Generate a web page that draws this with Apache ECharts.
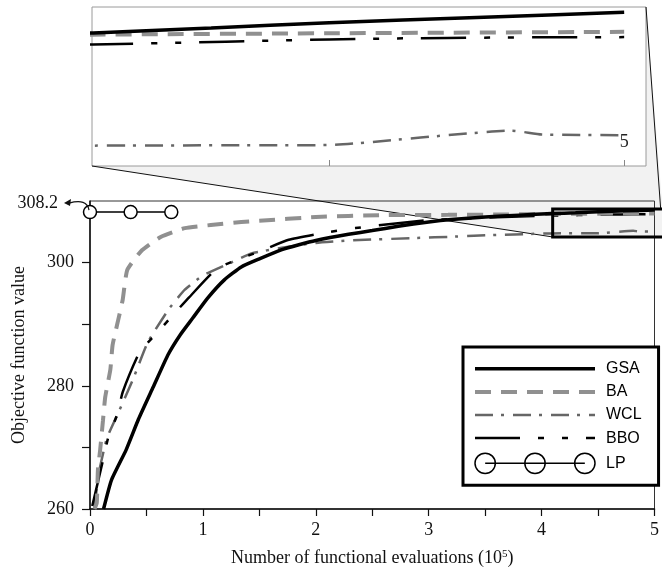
<!DOCTYPE html>
<html><head><meta charset="utf-8">
<script src="https://cdn.jsdelivr.net/npm/echarts@6/dist/echarts.min.js"></script>
<style>html,body{margin:0;padding:0;background:#fff}#c{width:662px;height:578px}</style>
</head><body><div id="c"></div>
<script>
// x in units of 10^5 evaluations, y = objective function value
const GSA = [[0.12,260],[0.19,264.7],[0.32,269.6],[0.43,274.6],[0.56,279.8],[0.69,285],[0.8,288.3],[0.91,291],[1.04,294.2],[1.19,297.2],[1.34,299.3],[1.5,300.6],[1.7,302.1],[1.85,302.9],[2.0,303.6],[2.29,304.6],[2.5,305.2],[2.73,305.9],[3.0,306.6],[3.2,307.0],[3.5,307.4],[3.8,307.7],[4.1,307.96],[4.3,308.1],[4.5,308.25],[4.75,308.4],[5.0,308.55]];
const BA = [[0.04,260],[0.06,261],[0.07,266.3],[0.09,269.6],[0.115,274.4],[0.135,278.2],[0.18,282.6],[0.2,286.6],[0.24,289.9],[0.26,291.5],[0.29,294],[0.33,298.8],[0.46,302],[0.63,304.2],[0.84,305.6],[1.07,306.1],[1.34,306.6],[1.5,306.8],[2.0,307.4],[2.58,307.7],[3.17,307.75],[3.6,307.8],[4.1,307.91],[4.5,307.95],[5.0,307.99]];
const WCL = [[0.04,260.3],[0.08,266],[0.15,271.5],[0.26,276],[0.38,281],[0.51,287],[0.7,292.5],[0.84,295.6],[1.0,297.9],[1.25,300],[1.43,301.5],[1.7,302.4],[2.0,303.2],[2.3,303.6],[2.9,304],[3.2,304.2],[3.6,304.5],[4.1,304.74],[4.5,304.76],[4.81,305.17],[4.86,305.06],[5.0,305.04]];
const BBO = [[0.02,260.5],[0.11,267.5],[0.16,271.5],[0.24,275.3],[0.29,279],[0.44,285.5],[0.6,288.7],[0.75,291.8],[0.88,294.4],[1.13,299.1],[1.5,301.8],[1.76,303.7],[2.13,305],[2.35,305.6],[2.58,306.1],[3.0,306.9],[3.5,307.3],[4.1,307.63],[4.25,307.68],[4.4,307.74],[4.6,307.8],[4.8,307.83],[5.0,307.84]];
const LP = [[0,308.2],[0.36,308.2],[0.72,308.2]];
const LP_VALUE = 308.2;
const Y_LABELS = [260,280,300];
const Y_TICKS = [260,270,280,290,300];
const INSET_TICKS = [4.5,5];
const INSET_LABELS = [5];
const ZOOM_X = [4.098, 5.037];
const ZOOM_Y = [304.16, 308.7];

const serif = 'Liberation Serif, Times New Roman, serif';
const sans = 'Liberation Sans, Arial, sans-serif';
const styles = {
  GSA: {color:'#000', width:3.5, type:'solid'},
  BA:  {color:'#909090', width:4, type:[16,10]},
  WCL: {color:'#666', width:2.5, type:[18,8,3,9]},
  BBO: {color:'#000', width:2.5, type:[45,18,6,18,6,18]}
};
const dataMap = {GSA, BA, WCL, BBO};
const series = [];
[0,1].forEach(g => {
  ['WCL','BBO','BA','GSA'].forEach(n => {
    series.push({
      name:n, type:'line', xAxisIndex:g, yAxisIndex:g, data:dataMap[n],
      symbol:'none', smooth:0.15, clip:true,
      lineStyle:{color:styles[n].color, width:styles[n].width, type:styles[n].type},
      itemStyle:{color:styles[n].color}, z: 3
    });
  });
});
series.push({
  name:'LP', type:'line', xAxisIndex:0, yAxisIndex:0, data:LP,
  symbol:'circle', symbolSize:13, showSymbol:true,
  lineStyle:{color:'#000', width:1.5},
  itemStyle:{color:'#fff', borderColor:'#000', borderWidth:1.5}, z:4
});

const inset = {left:92, top:7, width:554, height:159};
const lpIcon = 'path://M1,11A10,10 0 1,0 21,11A10,10 0 1,0 1,11ZM50,11A10,10 0 1,0 70,11A10,10 0 1,0 50,11ZM99,11A10,10 0 1,0 119,11A10,10 0 1,0 99,11ZM11,11L109,11';
const hiddenSym = {opacity:0};

const chart = echarts.init(document.getElementById('c'));
chart.setOption({
  animation:false,
  backgroundColor:'#fff',
  grid:[
    {left:90, top:201, width:568, height:308, show:true, borderColor:'#333', borderWidth:1, backgroundColor:'transparent'},
    {left:inset.left, top:inset.top, width:inset.width, height:inset.height, show:true, borderColor:'#9a9a9a', borderWidth:1, backgroundColor:'#fff', z:1}
  ],
  xAxis:[
    {type:'value', gridIndex:0, min:0, max:5, interval:1,
     name:'Number of functional evaluations (10{sup|5})', nameLocation:'middle', nameGap:40,
     nameTextStyle:{fontFamily:serif, fontSize:18, color:'#111', rich:{sup:{fontFamily:serif, fontSize:11, verticalAlign:'top', padding:[0,0,8,0], color:'#111'}}},
     axisLine:{lineStyle:{color:'#111', width:1.5}},
     axisTick:{show:true, length:7, lineStyle:{color:'#111', width:1.2}},
     minorTick:{show:true, splitNumber:2, length:7, lineStyle:{color:'#111', width:1.2}},
     axisLabel:{fontFamily:serif, fontSize:18, color:'#111', margin:12},
     splitLine:{show:false}},
    {type:'value', gridIndex:1, min:ZOOM_X[0], max:ZOOM_X[1], z:5,
     axisLine:{show:false},
     axisTick:{show:true, inside:true, length:6, customValues:INSET_TICKS, lineStyle:{color:'#888'}},
     axisLabel:{inside:true, customValues:INSET_LABELS, fontFamily:serif, fontSize:18, color:'#222', margin:15, formatter:v=>String(Math.round(v))},
     splitLine:{show:false}}
  ],
  yAxis:[
    {type:'value', gridIndex:0, min:260, max:310,
     name:'Objective function value', nameLocation:'middle', nameGap:62, nameRotate:90,
     nameTextStyle:{fontFamily:serif, fontSize:18, color:'#111'},
     axisLine:{lineStyle:{color:'#111', width:1.5}},
     axisTick:{show:true, length:8, customValues:Y_TICKS, lineStyle:{color:'#111', width:1.2}},
     axisLabel:{customValues:Y_LABELS, fontFamily:serif, fontSize:18, color:'#111', margin:16},
     splitLine:{show:false}},
    {type:'value', gridIndex:1, min:ZOOM_Y[0], max:ZOOM_Y[1], show:false, splitLine:{show:false}}
  ],
  legend:{
    orient:'vertical', left:463, top:347, itemWidth:120, itemHeight:22, itemGap:5.5,
    padding:[13,17,11,10], borderColor:'#000', borderWidth:3, backgroundColor:'#fff',
    textStyle:{fontFamily:sans, fontSize:16, color:'#000', padding:[0,0,0,6]},
    lineStyle:{width:'inherit'},
    data:[
      {name:'GSA', itemStyle:hiddenSym},
      {name:'BA', itemStyle:hiddenSym},
      {name:'WCL', itemStyle:hiddenSym},
      {name:'BBO', itemStyle:hiddenSym},
      {name:'LP', icon:lpIcon, itemStyle:{color:'rgba(0,0,0,0)', borderColor:'#000', borderWidth:1.5}}
    ]
  },
  series
});

const p = (x,y)=>chart.convertToPixel({gridIndex:0},[x,y]);
const tl = p(ZOOM_X[0], ZOOM_Y[1]);
const br = p(ZOOM_X[1], ZOOM_Y[0]);
const lp = p(0, LP_VALUE);
const ib = inset.top + inset.height, il = inset.left, ir = inset.left + inset.width;
chart.setOption({
  graphic:[
    {type:'polygon', z:-5, silent:true,
     shape:{points:[[il,ib],[ir,ib],[ir,inset.top],[br[0]+4,tl[1]],[br[0]+4,br[1]],[tl[0],br[1]]]},
     style:{fill:'#f2f2f2', stroke:null}},
    {type:'line', z:2, silent:true, shape:{x1:il, y1:ib, x2:tl[0], y2:br[1]}, style:{stroke:'#111', lineWidth:1}},
    {type:'line', z:2, silent:true, shape:{x1:ir, y1:inset.top, x2:br[0]+2, y2:tl[1]}, style:{stroke:'#111', lineWidth:1}},
    {type:'rect', z:10, silent:true, shape:{x:tl[0], y:tl[1], width:br[0]-tl[0]+6, height:br[1]-tl[1]}, style:{fill:null, stroke:'#000', lineWidth:3}},
    {type:'text', z:10, silent:true, x:58, y:lp[1]-9, style:{text:String(LP_VALUE), fontFamily:serif, fontSize:18, fill:'#111', align:'right', verticalAlign:'middle'}},
    {type:'bezierCurve', z:10, silent:true, shape:{x1:lp[0]-1, y1:lp[1]-2, cpx1:lp[0]-3, cpy1:lp[1]-14, x2:lp[0]-21, y2:lp[1]-9}, style:{stroke:'#111', lineWidth:1.2, fill:null}},
    {type:'polygon', z:10, silent:true, shape:{points:[[lp[0]-26,lp[1]-9],[lp[0]-19,lp[1]-13],[lp[0]-20,lp[1]-6]]}, style:{fill:'#111'}}
  ]
});
</script></body></html>
